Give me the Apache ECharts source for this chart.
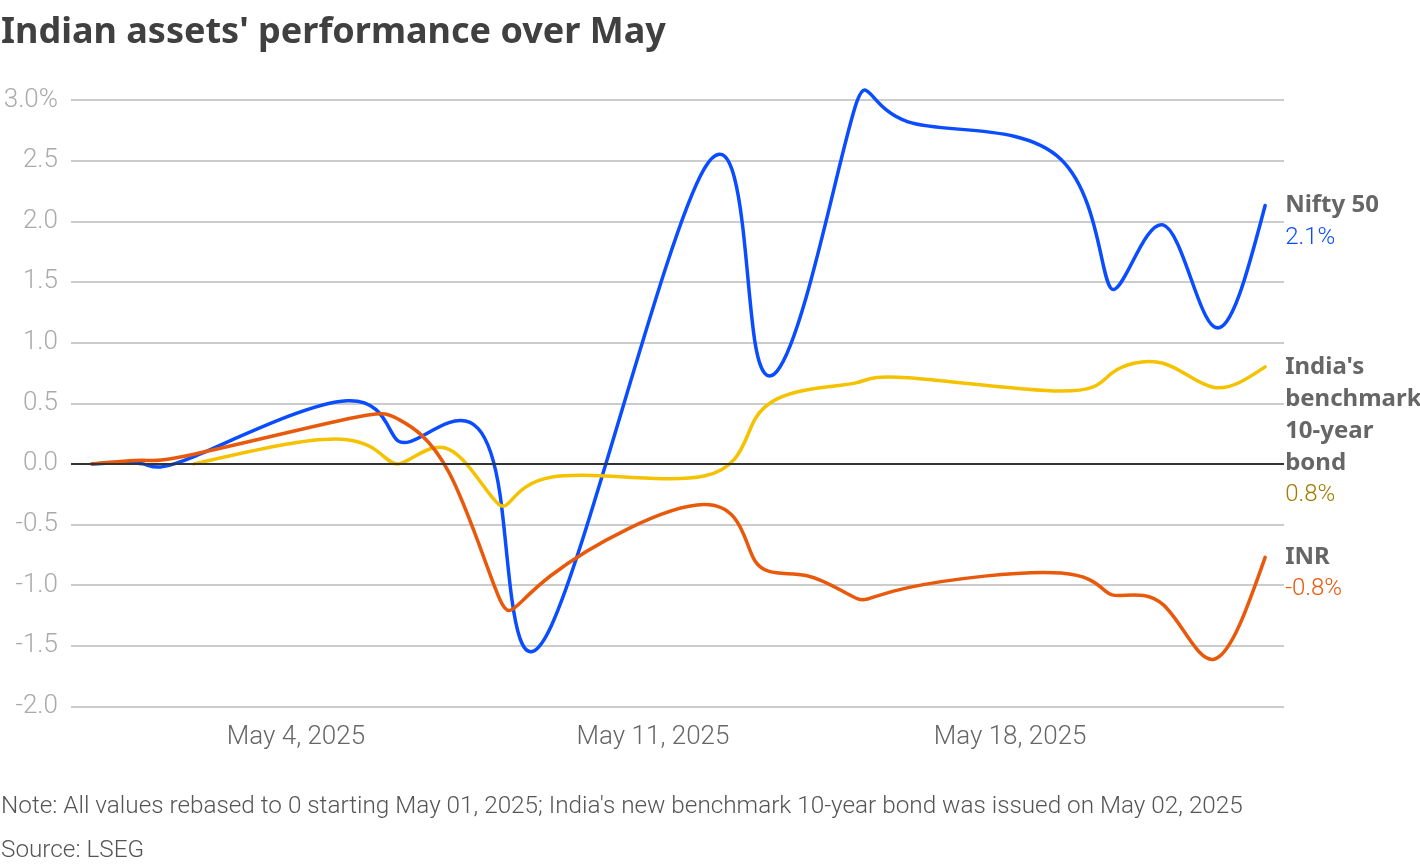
<!DOCTYPE html>
<html>
<head>
<meta charset="utf-8">
<script src="https://cdn.jsdelivr.net/npm/echarts@6/dist/echarts.min.js"></script>
<style>
  html, body { margin: 0; padding: 0; background: #fff; }
  #chart { width: 1420px; height: 864px; }
</style>
</head>
<body>
<div id="chart"></div>
<script>
// ---- data (percent change, rebased) ----
const dates = ['2025-04-30','2025-05-01','2025-05-02','2025-05-05','2025-05-06','2025-05-07','2025-05-08','2025-05-09',
               '2025-05-12','2025-05-13','2025-05-14','2025-05-15','2025-05-16','2025-05-19','2025-05-20','2025-05-21',
               '2025-05-22','2025-05-23'];
const nifty = [0, 0, 0.06, 0.52, 0.19, 0.34, -0.25, -1.34, 2.43, 1.00, 1.37, 2.99, 2.82, 2.51, 1.44, 1.97, 1.13, 2.13];
const bond  = [null, null, 0, 0.20, 0.00, 0.12, -0.34, -0.11, -0.10, 0.37, 0.61, 0.67, 0.71, 0.60, 0.75, 0.83, 0.63, 0.80];
const inr   = [0, 0.03, 0.08, 0.37, 0.37, -0.07, -1.12, -0.92, -0.335, -0.80, -0.92, -1.11, -1.02, -0.90, -1.08, -1.16, -1.61, -0.77];
const xTickDates = ['2025-05-04', '2025-05-11', '2025-05-18'];
const yTicks = [-2, -1.5, -1, -0.5, 0, 0.5, 1, 1.5, 2, 2.5, 3];

const titleText = "Indian assets' performance over May";
const noteText = "Note: All values rebased to 0 starting May 01, 2025; India's new benchmark 10-year bond was issued on May 02, 2025";
const sourceText = "Source: LSEG";

const seriesDefs = [
  { name: 'Nifty 50', lines: ['Nifty 50'], data: nifty, color: '#0a4cff', valColor: '#0a4cff' },
  { name: "India's benchmark 10-year bond", lines: ["India's", 'benchmark', '10-year', 'bond'], data: bond, color: '#f5c200', valColor: '#a17c00' },
  { name: 'INR', lines: ['INR'], data: inr, color: '#e8590c', valColor: '#e8590c' }
];

const DAY = 86400000;
function toTs(s) { const p = s.split('-').map(Number); return Date.UTC(p[0], p[1] - 1, p[2]); }
const t0 = toTs(dates[0]);
function dayIndex(s) { return Math.round((toTs(s) - t0) / DAY); }
const MONTHS = ['Jan','Feb','Mar','Apr','May','Jun','Jul','Aug','Sep','Oct','Nov','Dec'];
function dayLabel(n) { const d = new Date(t0 + n * DAY); return MONTHS[d.getUTCMonth()] + ' ' + d.getUTCDate() + ', ' + d.getUTCFullYear(); }

const FONT = 'Roboto, "Noto Sans", sans-serif';
const BOLD_FONT = '"Noto Sans", Roboto, sans-serif';

// natural cubic spline through pixel points (same construction as d3.curveNatural)
function naturalCP(x) {
  const n = x.length - 1;
  const a = new Array(n), b = new Array(n), r = new Array(n);
  a[0] = 0; b[0] = 2; r[0] = x[0] + 2 * x[1];
  for (let i = 1; i < n - 1; ++i) { a[i] = 1; b[i] = 4; r[i] = 4 * x[i] + 2 * x[i + 1]; }
  a[n - 1] = 2; b[n - 1] = 7; r[n - 1] = 8 * x[n - 1] + x[n];
  for (let i = 1; i < n; ++i) { const m = a[i] / b[i - 1]; b[i] -= m; r[i] -= m * r[i - 1]; }
  a[n - 1] = r[n - 1] / b[n - 1];
  for (let i = n - 2; i >= 0; --i) a[i] = (r[i] - a[i + 1]) / b[i];
  b[n - 1] = (x[n] + a[n - 1]) / 2;
  for (let i = 0; i < n - 1; ++i) b[i] = 2 * x[i + 1] - a[i + 1];
  return [a, b];
}
function naturalPath(pts) {
  const n = pts.length;
  let d = 'M' + pts[0][0] + ' ' + pts[0][1];
  if (n === 2) return d + 'L' + pts[1][0] + ' ' + pts[1][1];
  const xs = pts.map(p => p[0]), ys = pts.map(p => p[1]);
  const px = naturalCP(xs), py = naturalCP(ys);
  for (let i = 0; i < n - 1; i++) {
    d += 'C' + px[0][i] + ' ' + py[0][i] + ' ' + px[1][i] + ' ' + py[1][i] + ' ' + xs[i + 1] + ' ' + ys[i + 1];
  }
  return d;
}

const chart = echarts.init(document.getElementById('chart'), null, { renderer: 'canvas' });

const series = seriesDefs.map(def => {
  const pairs = dates.map((t, i) => [dayIndex(t), def.data[i]]).filter(p => p[1] !== null);
  return {
    name: def.name,
    type: 'custom',
    coordinateSystem: 'cartesian2d',
    data: pairs,
    z: 3,
    clip: false,
    silent: true,
    encode: { x: 0, y: 1 },
    renderItem: (params, api) => {
      if (params.dataIndex !== 0) return null;
      const pts = pairs.map(p => api.coord(p));
      const last = pts[pts.length - 1];
      const lastVal = pairs[pairs.length - 1][1];
      const label = def.lines.map(l => '{n|' + l + '}').join('\n') + '\n{v|' + lastVal.toFixed(1) + '%}';
      return {
        type: 'group',
        children: [
          {
            type: 'path',
            shape: { pathData: naturalPath(pts) },
            style: { fill: null, stroke: def.color, lineWidth: 3.5, lineJoin: 'round', lineCap: 'round' }
          },
          {
            type: 'text',
            x: last[0] + 20,
            y: last[1] - 16,
            style: {
              text: label,
              align: 'left',
              verticalAlign: 'top',
              rich: {
                n: { fontFamily: BOLD_FONT, fontWeight: 'bold', fontSize: 24, lineHeight: 32, fill: '#666666' },
                v: { fontFamily: FONT, fontWeight: 300, fontSize: 24, lineHeight: 32, fill: def.valColor }
              }
            }
          }
        ]
      };
    }
  };
});

series.unshift({
  name: 'zero',
  type: 'line',
  data: [],
  z: 2,
  silent: true,
  markLine: {
    silent: true,
    symbol: 'none',
    label: { show: false },
    lineStyle: { color: '#333333', width: 2, type: 'solid' },
    data: [{ yAxis: 0 }],
    animation: false
  }
});

const option = {
  animation: false,
  backgroundColor: '#ffffff',
  title: [
    { text: titleText, left: 1, top: 15, padding: 0,
      textStyle: { fontFamily: BOLD_FONT, fontWeight: 'bold', fontSize: 36, color: '#404040' } },
    { text: noteText, left: 1, top: 795, padding: 0,
      textStyle: { fontFamily: FONT, fontWeight: 300, fontSize: 24.3, color: '#555555' } },
    { text: sourceText, left: 1, top: 839, padding: 0,
      textStyle: { fontFamily: FONT, fontWeight: 300, fontSize: 24.3, color: '#555555' } }
  ],
  grid: { left: 71, right: 136, top: 100, bottom: 157.5, containLabel: false },
  xAxis: {
    type: 'value',
    min: -0.41,
    max: dayIndex(dates[dates.length - 1]) + 0.37,
    axisLine: { show: false },
    axisTick: { show: false },
    splitLine: { show: false },
    axisLabel: {
      customValues: xTickDates.map(dayIndex),
      formatter: v => dayLabel(v),
      fontFamily: FONT, fontWeight: 300, fontSize: 26, color: '#666666', margin: 18
    }
  },
  yAxis: {
    type: 'value',
    min: -2, max: 3, interval: 0.5,
    axisLine: { show: false },
    axisTick: { show: false },
    splitLine: { show: true, lineStyle: { color: '#cccccc', width: 2 } },
    axisLabel: {
      formatter: v => v === yTicks[yTicks.length - 1] ? v.toFixed(1) + '%' : v.toFixed(1),
      fontFamily: FONT, fontWeight: 300, fontSize: 26, color: '#aaaaaa', margin: 13
    }
  },
  tooltip: { show: false },
  series: series
};

chart.setOption(option);
</script>
</body>
</html>
